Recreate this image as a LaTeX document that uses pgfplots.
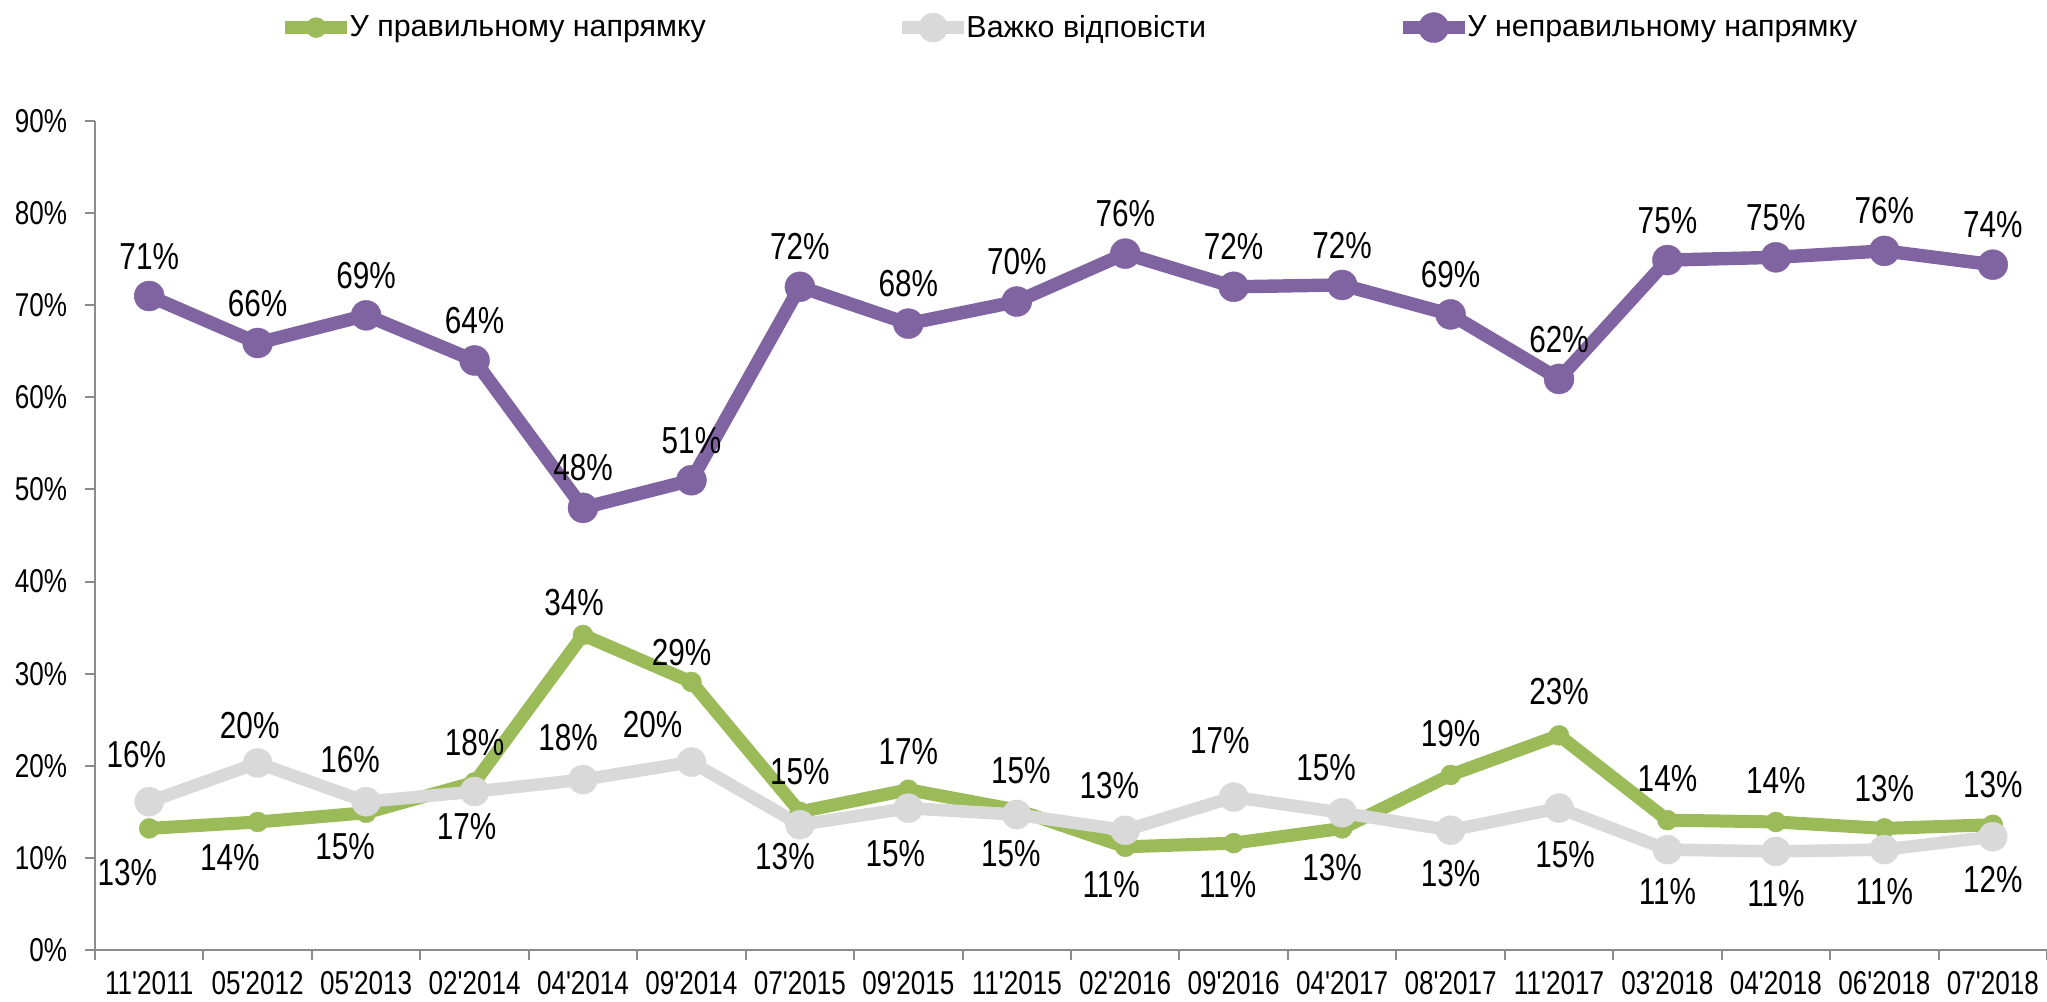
\documentclass[border=0pt]{standalone}
\usepackage{fontspec}
\setmainfont{Liberation Sans}
\newfontfamily\narrow{Liberation Sans}[FakeStretch=0.79]
\usepackage{pgfplots}
\pgfplotsset{compat=1.18}
\usepackage{pgfplotstable}
\definecolor{cgreen}{HTML}{9BBB59}
\definecolor{cgray}{HTML}{D9D9D9}
\definecolor{cpurple}{HTML}{8064A2}
\definecolor{caxis}{HTML}{8C8C8C}

\pgfplotstableread{
x y dx dy lab
0 13.2 -11 -22 13
1 13.9 -14 -18 14
2 14.9 -10.5 -17 15
3 18.2 0 20 18
4 34.2 -4.5 16.5 34
5 29.1 -5 15 29
6 15.0 0 20 15
7 17.4 0 19 17
8 15.2 2 20 15
9 11.2 -7 -19 11
10 11.6 -3 -21 11
11 13.2 -5 -19.5 13
12 19.0 0 21 19
13 23.3 0 22 23
14 14.1 0 21 14
15 13.9 0 21 14
16 13.2 0 20 13
17 13.6 0 20 13
}\tgreen

\pgfplotstableread{
x y dx dy lab
0 16.1 -6.5 23.5 16
1 20.3 -4 19 20
2 16.1 -8 21 16
3 17.2 -4 -17.5 17
4 18.5 -7.5 21 18
5 20.4 -19.5 19 20
6 13.6 -7.5 -16 13
7 15.4 -6.5 -23 15
8 14.7 -3 -19.5 15
9 13.0 -8 22.5 13
10 16.6 -7 28.5 17
11 14.9 -8 22.5 15
12 13.0 0 -21.5 13
13 15.4 3 -23.5 15
14 10.9 0 -21 11
15 10.7 0 -21 11
16 10.9 0 -21 11
17 12.3 0 -21.5 12
}\tgray

\pgfplotstableread{
x y dx dy lab
0 71.0 0 20 71
1 65.9 0 20 66
2 68.9 0 20 69
3 64.0 0 20 64
4 48.0 0 20 48
5 51.0 0 20 51
6 72.0 0 20 72
7 68.0 0 20 68
8 70.4 0 20 70
9 75.6 0 20 76
10 72.0 0 20 72
11 72.2 0 20 72
12 69.0 0 20 69
13 62.0 0 20 62
14 74.9 0 20 75
15 75.2 0 20 75
16 75.9 0 20 76
17 74.4 0 20 74
}\tpurple

\pgfplotsset{
  lbl/.style={
    draw=none, mark=none, forget plot,
    nodes near coords={\pgfplotspointmeta\%},
    point meta=explicit symbolic,
    visualization depends on={\thisrow{dx}\as\lblx},
    visualization depends on={\thisrow{dy}\as\lbly},
    nodes near coords align={anchor=center},
    every node near coord/.append style={anchor=center, xshift=\lblx, yshift=\lbly,
      text=black, inner sep=0pt, font=\narrow\fontsize{18.8bp}{20bp}\selectfont},
  }
}

\begin{document}
\begin{tikzpicture}
\begin{axis}[
  scale only axis, width=976bp, height=414.5bp,
  xmin=-0.5, xmax=17.5, ymin=0, ymax=90,
  axis x line*=bottom, axis y line*=left,
  axis line style={caxis, line width=1bp, -},
  xtick={-0.5,0.5,...,17.5}, x tick label as interval,
  xticklabels={11'2011,05'2012,05'2013,02'2014,04'2014,09'2014,07'2015,09'2015,11'2015,02'2016,09'2016,04'2017,08'2017,11'2017,03'2018,04'2018,06'2018,07'2018},
  ytick={0,10,...,90},
  yticklabels={0\%,10\%,20\%,30\%,40\%,50\%,60\%,70\%,80\%,90\%},
  tick align=outside, major tick length=5bp,
  tick style={caxis, line width=1bp},
  ticklabel style={font=\narrow\fontsize{16.5bp}{17bp}\selectfont, text=black},
  yticklabel style={xshift=-5.5bp},
  xticklabel style={yshift=-4.5bp, inner sep=1bp},
  clip=false,
  legend columns=3,
  legend style={draw=none, fill=none, at={(0.5,1)}, anchor=center, yshift=46.7bp, xshift=-1bp,
    font=\fontsize{15.2bp}{16bp}\selectfont, inner sep=0pt, nodes={inner sep=1bp},
    /tikz/every odd column/.append style={column sep=-3bp},
    /tikz/every even column/.append style={column sep=94bp}},
  legend image code/.code={\draw[mark repeat=2,mark phase=2,#1] plot coordinates {(0bp,0bp) (15.5bp,0bp) (31bp,0bp)};},
]
\coordinate (o) at (rel axis cs:0,0);
\addplot[color=cgreen, line width=6.5bp, mark=*, mark size=5bp, mark options={line width=0.2bp, fill=cgreen}]
  table[x=x, y=y]{\tgreen};
\addlegendentry{У правильному напрямку}
\addplot[color=cgray, line width=6.3bp, mark=*, mark size=7.25bp, mark options={line width=0.2bp, fill=cgray}]
  table[x=x, y=y]{\tgray};
\addlegendentry{Важко відповісти}
\addplot[color=cpurple, line width=6.7bp, mark=*, mark size=7.5bp, mark options={line width=0.2bp, fill=cpurple}]
  table[x=x, y=y]{\tpurple};
\addlegendentry{У неправильному напрямку}
\addplot[lbl] table[x=x, y=y, meta=lab]{\tgreen};
\addplot[lbl] table[x=x, y=y, meta=lab]{\tgray};
\addplot[lbl] table[x=x, y=y, meta=lab]{\tpurple};
\end{axis}
\pgfresetboundingbox
\path (o) ++(-47.5bp,-26bp) rectangle ++(1023.5bp,501bp);
\end{tikzpicture}
\end{document}
